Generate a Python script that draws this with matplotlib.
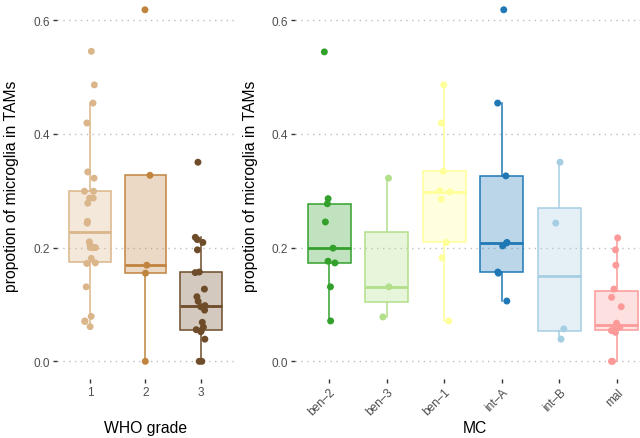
import matplotlib
matplotlib.use("Agg")
import matplotlib.pyplot as plt
import numpy as np

plt.rcParams['font.family'] = ['Liberation Sans', 'DejaVu Sans']

# WHO grade panel
who_labels = ['1', '2', '3']
who_colors = ['#DBB68A', '#C1843F', '#6E4C2A']
who_1 = [0.545, 0.486, 0.454, 0.419, 0.333, 0.322, 0.299, 0.299, 0.287, 0.287,
         0.278, 0.246, 0.243, 0.210, 0.2045, 0.200, 0.200, 0.200, 0.181, 0.173,
         0.172, 0.131, 0.079, 0.071, 0.070, 0.061]
who_2 = [0.618, 0.327, 0.169, 0.155, 0.0]
who_3 = [0.350, 0.218, 0.214, 0.209, 0.196, 0.157, 0.156, 0.127, 0.1136, 0.1055,
         0.098, 0.096, 0.090, 0.0686, 0.060, 0.0556, 0.054, 0.052, 0.039, 0.0, 0.0]
who_values = [who_1, who_2, who_3]

# MC panel
mc_labels = ['ben–2', 'ben–3', 'ben–1', 'int–A', 'int–B', 'mal']
mc_colors = ['#33A02C', '#B2DF8A', '#FFFF99', '#1F78B4', '#A6CEE3', '#FB9A99']
ben_2 = [0.544, 0.286, 0.277, 0.245, 0.199, 0.176, 0.173, 0.131, 0.071]
ben_3 = [0.322, 0.131, 0.078]
ben_1 = [0.486, 0.419, 0.334, 0.300, 0.298, 0.285, 0.209, 0.182, 0.071]
int_a = [0.618, 0.454, 0.326, 0.209, 0.208, 0.203, 0.157, 0.155, 0.106]
int_b = [0.350, 0.243, 0.057, 0.039]
mal = [0.217, 0.196, 0.169, 0.127, 0.1125, 0.096, 0.067, 0.062, 0.060, 0.060,
       0.054, 0.051, 0.0, 0.0]
mc_values = [ben_2, ben_3, ben_1, int_a, int_b, mal]

yticks = [0.0, 0.2, 0.4, 0.6]
rng = np.random.default_rng(7)

fig = plt.figure(figsize=(6.4, 4.39), dpi=100)
ax1 = fig.add_axes([0.0886, 0.1346, 0.277, 0.881])
ax2 = fig.add_axes([0.4608, 0.1346, 0.557, 0.881])


def draw_panel(ax, values, colors, labels):
    pos = np.arange(1, len(values) + 1)
    for ydot in yticks:
        ax.axhline(ydot, color='#BDBDBD', lw=1.0, linestyle=(0, (1, 3.2)), zorder=0)
    bp = ax.boxplot(values, positions=pos, widths=0.75, patch_artist=True,
                    showcaps=False, showfliers=False, whis=1.5)
    for i, c in enumerate(colors):
        box = bp['boxes'][i]
        box.set_facecolor(matplotlib.colors.to_rgba(c, 0.3))
        box.set_edgecolor(c)
        box.set_linewidth(1.1)
        box.set_zorder(2)
        bp['medians'][i].set_color(c)
        bp['medians'][i].set_linewidth(2.0)
        bp['medians'][i].set_zorder(3)
        for w in bp['whiskers'][2 * i:2 * i + 2]:
            w.set_color(c)
            w.set_linewidth(1.1)
            w.set_zorder(2)
        v = np.array(values[i])
        xs = pos[i] + rng.uniform(-0.1, 0.1, len(v))
        ax.scatter(xs, v, s=25, color=c, edgecolors='none', zorder=4)
    ax.set_xlim(0.4, len(values) + 0.6)
    ax.set_ylim(-0.0309, 0.649)
    ax.set_yticks(yticks)
    ax.set_yticklabels(['0.0', '0.2', '0.4', '0.6'])
    ax.set_xticks(pos)
    for s in ax.spines.values():
        s.set_visible(False)
    ax.tick_params(axis='both', length=3, width=1.0, color='#333333',
                   labelcolor='#4D4D4D', labelsize=8.5, pad=2)
    ax.set_ylabel('propotion of microglia in TAMs', fontsize=11.3, color='black')


draw_panel(ax1, who_values, who_colors, who_labels)
ax1.set_xticklabels(who_labels)
ax1.set_xlabel('WHO grade', fontsize=11.3, color='black')
ax1.yaxis.set_label_coords(-0.215, 0.5)
ax1.xaxis.set_label_coords(0.5, -0.105)

draw_panel(ax2, mc_values, mc_colors, mc_labels)
ax2.set_xticklabels(mc_labels, rotation=45, ha='right', rotation_mode='anchor')
ax2.set_xlabel('MC', fontsize=11.3, color='black')
ax2.yaxis.set_label_coords(-0.103, 0.5)
ax2.xaxis.set_label_coords(0.5059, -0.105)

fig.savefig('out.png', dpi=100)
